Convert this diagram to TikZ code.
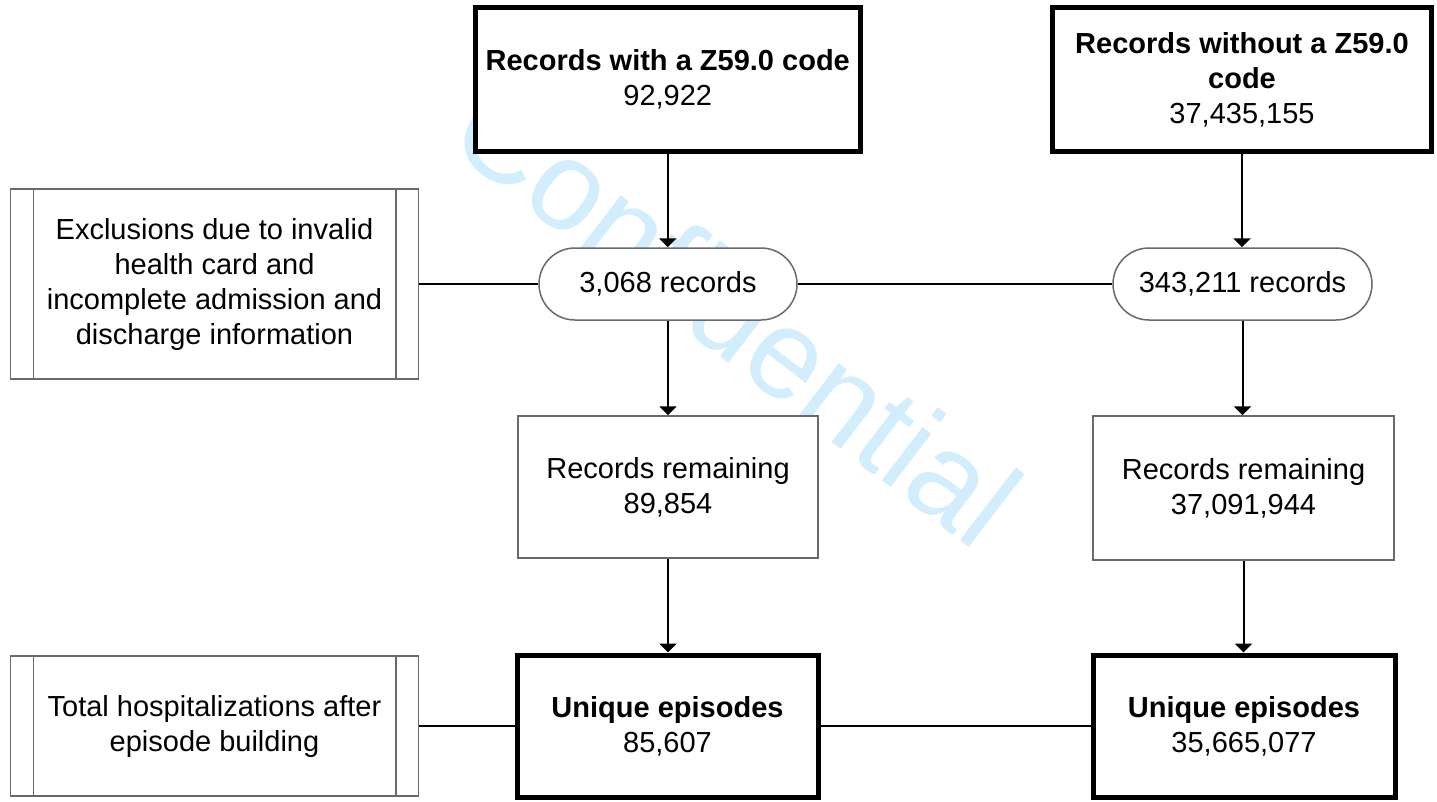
\documentclass[tikz,border=0pt]{standalone}
\usepackage{fontspec}
\setmainfont{Liberation Sans}
\usetikzlibrary{arrows.meta}
\definecolor{wm}{RGB}{210,237,251}
\definecolor{edgegray}{RGB}{105,105,105}
\begin{document}
\begin{tikzpicture}[x=1pt,y=-1pt,
  every node/.style={font=\fontsize{29}{35}\selectfont, align=center, inner sep=0pt},
  thickbox/.style={draw=black, line width=5pt, fill=white, minimum height=144pt},
  thinbox/.style={draw=edgegray, line width=1.5pt, fill=white},
  ovalbox/.style={draw=edgegray, line width=1.5pt, fill=white, rounded corners=36pt, minimum width=258pt, minimum height=72pt},
  link/.style={line width=2pt},
  arr/.style={line width=2pt, -{Triangle[width=17pt,length=9pt]}},
  sidebar/.style={draw=edgegray, line width=1.5pt},
]
\useasboundingbox (0,0) rectangle (1437,801);
\node[text=wm, font=\fontsize{127}{127}\selectfont, rotate=-37.5] (wmark) at (738,313) {Confidential};

\node[thickbox, minimum width=384.5pt] (top1) at (667.75,79.5) {\textbf{Records with a Z59.0 code}\\92,922};
\node[thickbox, minimum width=379pt] (top2) at (1242,79.5) {\textbf{Records without a Z59.0}\\\textbf{code}\\37,435,155};

\node[ovalbox] (ov1) at (668,284) {3,068 records};
\node[ovalbox, minimum width=259pt] (ov2) at (1242.5,284) {343,211 records};

\node[thinbox, minimum width=408pt, minimum height=190pt] (excl) at (214.5,284) {Exclusions due to invalid\\health card and\\incomplete admission and\\discharge information};

\node[thinbox, minimum width=300pt, minimum height=142pt] (rem1) at (668,487) {Records remaining\\89,854};
\node[thinbox, minimum width=301pt, minimum height=144pt] (rem2) at (1243.5,488) {Records remaining\\37,091,944};

\node[thickbox, minimum width=301pt, minimum height=142pt] (uni1) at (667.5,726) {\textbf{Unique episodes}\\85,607};
\node[thickbox, minimum width=302pt, minimum height=142pt] (uni2) at (1244,726) {\textbf{Unique episodes}\\35,665,077};

\node[thinbox, minimum width=408pt, minimum height=140pt] (total) at (214.5,726) {Total hospitalizations after\\episode building};

\draw[sidebar] ([xshift=23.5pt]excl.north west) -- ([xshift=23.5pt]excl.south west);
\draw[sidebar] ([xshift=-23.5pt]excl.north east) -- ([xshift=-23.5pt]excl.south east);
\draw[sidebar] ([xshift=23.5pt]total.north west) -- ([xshift=23.5pt]total.south west);
\draw[sidebar] ([xshift=-23.5pt]total.north east) -- ([xshift=-23.5pt]total.south east);

\draw[arr] (top1.south) -- (top1.south |- ov1.north);
\draw[arr] (ov1.south) -- (ov1.south |- rem1.north);
\draw[arr] (rem1.south) -- (rem1.south |- uni1.north);
\draw[arr] (top2.south) -- (top2.south |- ov2.north);
\draw[arr] (ov2.south) -- (ov2.south |- rem2.north);
\draw[arr] (rem2.south) -- (rem2.south |- uni2.north);

\draw[link] (excl.east) -- (ov1.west);
\draw[link] (ov1.east) -- (ov2.west);
\draw[link] (total.east) -- (uni1.west);
\draw[link] (uni1.east) -- (uni2.west);
\end{tikzpicture}
\end{document}
